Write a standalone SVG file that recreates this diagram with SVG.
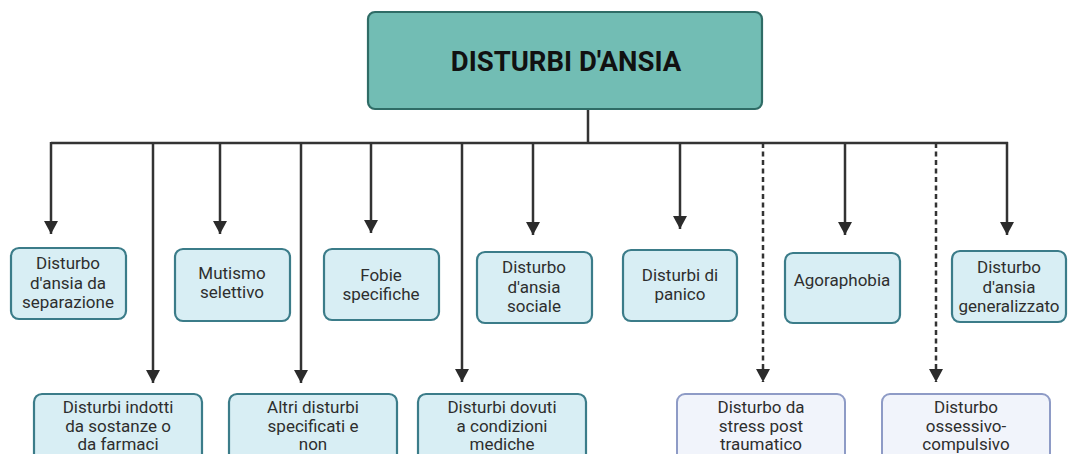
<svg xmlns="http://www.w3.org/2000/svg" width="1070" height="454" viewBox="0 0 1070 454">
  <style>
    .lbl { font-family: Roboto, "Liberation Sans", sans-serif; font-size: 17px; fill: #2e2e2e; text-anchor: middle; }
    .title { font-family: Roboto, "Liberation Sans", sans-serif; font-size: 27.5px; font-weight: bold; fill: #111; text-anchor: middle; }
    .box { fill: #d8eef4; stroke: #3b7c89; stroke-width: 2.2; }
    .box2 { fill: #f1f4fb; stroke: #8e9bc6; stroke-width: 2; }
    .wire { fill: none; stroke: #333; stroke-width: 2.5; }
    .dot { stroke-dasharray: 5 3.5; }
  </style>
  <defs>
    <marker id="arr" viewBox="0 0 13 14" refX="13" refY="7" markerWidth="13" markerHeight="14" markerUnits="userSpaceOnUse" orient="auto">
      <path d="M0,0 L13,7 L0,14 Z" fill="#2b2b2b"/>
    </marker>
  </defs>
  <rect width="1070" height="454" fill="#fff"/>

  <!-- connectors -->
  <g id="connectors">
    <path class="wire" d="M588,109 V143 M51,143 H1008"/>
    <path class="wire" d="M51,142 V234" marker-end="url(#arr)"/>
    <path class="wire" d="M153,143 V383" marker-end="url(#arr)"/>
    <path class="wire" d="M220,143 V234" marker-end="url(#arr)"/>
    <path class="wire" d="M301,143 V383" marker-end="url(#arr)"/>
    <path class="wire" d="M371,143 V233" marker-end="url(#arr)"/>
    <path class="wire" d="M462,143 V382" marker-end="url(#arr)"/>
    <path class="wire" d="M533,143 V235" marker-end="url(#arr)"/>
    <path class="wire" d="M680,143 V229" marker-end="url(#arr)"/>
    <path class="wire dot" d="M763,143 V382" marker-end="url(#arr)"/>
    <path class="wire" d="M845,143 V235" marker-end="url(#arr)"/>
    <path class="wire dot" d="M936,143 V382" marker-end="url(#arr)"/>
    <path class="wire" d="M1007,142 V235" marker-end="url(#arr)"/>
  </g>

  <g id="root">
    <rect x="368" y="12" width="394" height="97" rx="7" fill="#72bdb4" stroke="#2f6c66" stroke-width="2.2"/>
    <text class="title" x="566" y="71">DISTURBI D'ANSIA</text>
  </g>

  <g id="separazione">
    <rect class="box" x="11" y="248" width="115" height="71" rx="8"/>
    <text class="lbl" x="68"><tspan x="68" y="269">Disturbo</tspan><tspan x="68" y="289">d'ansia da</tspan><tspan x="68" y="308">separazione</tspan></text>
  </g>
  <g id="mutismo">
    <rect class="box" x="175" y="249" width="115" height="72" rx="8"/>
    <text class="lbl" x="232"><tspan x="232" y="279">Mutismo</tspan><tspan x="232" y="298">selettivo</tspan></text>
  </g>
  <g id="fobie">
    <rect class="box" x="324" y="249" width="115" height="71" rx="8"/>
    <text class="lbl" x="381"><tspan x="381" y="281">Fobie</tspan><tspan x="381" y="300">specifiche</tspan></text>
  </g>
  <g id="sociale">
    <rect class="box" x="477" y="252" width="115" height="71" rx="8"/>
    <text class="lbl" x="534"><tspan x="534" y="273">Disturbo</tspan><tspan x="534" y="293">d'ansia</tspan><tspan x="534" y="312">sociale</tspan></text>
  </g>
  <g id="panico">
    <rect class="box" x="623" y="250" width="114" height="71" rx="8"/>
    <text class="lbl" x="680"><tspan x="680" y="281">Disturbi di</tspan><tspan x="680" y="300">panico</tspan></text>
  </g>
  <g id="agoraphobia">
    <rect class="box" x="785" y="253" width="115" height="70" rx="8"/>
    <text class="lbl" x="842" y="286">Agoraphobia</text>
  </g>
  <g id="generalizzato">
    <rect class="box" x="952" y="251" width="114" height="71" rx="8"/>
    <text class="lbl" x="1009"><tspan x="1009" y="273">Disturbo</tspan><tspan x="1009" y="293">d'ansia</tspan><tspan x="1009" y="312">generalizzato</tspan></text>
  </g>

  <g id="sostanze">
    <rect class="box" x="34" y="394" width="168" height="70" rx="8"/>
    <text class="lbl" x="118"><tspan x="118" y="413">Disturbi indotti</tspan><tspan x="118" y="432">da sostanze o</tspan><tspan x="118" y="450">da farmaci</tspan></text>
  </g>
  <g id="altri">
    <rect class="box" x="229" y="394" width="168" height="70" rx="8"/>
    <text class="lbl" x="313"><tspan x="313" y="413">Altri disturbi</tspan><tspan x="313" y="432">specificati e</tspan><tspan x="313" y="450">non</tspan></text>
  </g>
  <g id="condizioni">
    <rect class="box" x="418" y="394" width="168" height="70" rx="8"/>
    <text class="lbl" x="502"><tspan x="502" y="413">Disturbi dovuti</tspan><tspan x="502" y="432">a condizioni</tspan><tspan x="502" y="450">mediche</tspan></text>
  </g>
  <g id="ptsd">
    <rect class="box2" x="677" y="394" width="168" height="70" rx="8"/>
    <text class="lbl" x="761"><tspan x="761" y="413">Disturbo da</tspan><tspan x="761" y="432">stress post</tspan><tspan x="761" y="450">traumatico</tspan></text>
  </g>
  <g id="ocd">
    <rect class="box2" x="882" y="394" width="168" height="70" rx="8"/>
    <text class="lbl" x="966"><tspan x="966" y="413">Disturbo</tspan><tspan x="966" y="432">ossessivo-</tspan><tspan x="966" y="450">compulsivo</tspan></text>
  </g>
</svg>
